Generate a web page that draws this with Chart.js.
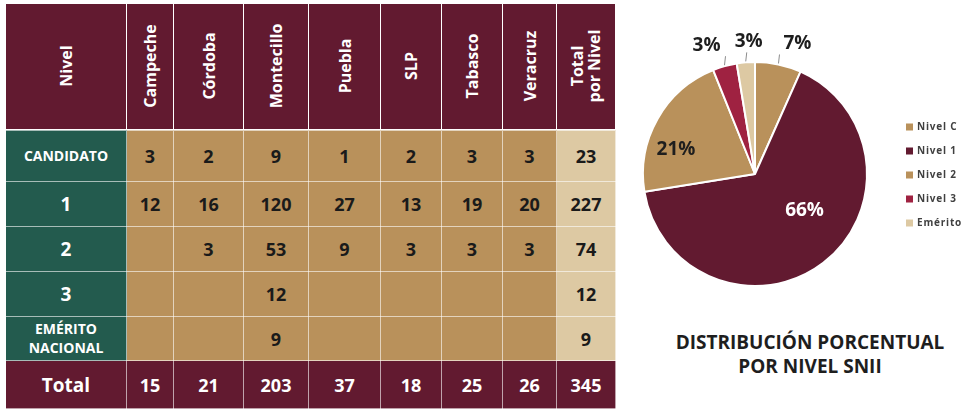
<!DOCTYPE html>
<html lang="es">
<head>
<meta charset="utf-8">
<title>Distribución por nivel SNII</title>
<script src="https://cdn.jsdelivr.net/npm/chart.js@4.4.1/dist/chart.umd.min.js"></script>
<style>
  html, body { margin: 0; padding: 0; background: #fff; }
  body { width: 964px; height: 410px; position: relative; overflow: hidden; font-family: "Open Sans", "Noto Sans", sans-serif; }

  #tabla { position: absolute; left: 5px; top: 3px; width: 610px; border-collapse: collapse; table-layout: fixed; }
  #tabla th, #tabla td { border: 1.5px solid rgba(255, 255, 255, 0.6); padding: 0; text-align: center; vertical-align: middle; font-weight: 700; }
  #tabla thead th { background: #621a30; color: #fff; font-size: 16px; position: relative; }
  #tabla thead tr { height: 126px; }
  #tabla thead tr th { border-bottom-width: 2px; }
  .vert { position: absolute; left: 50%; top: 50%; transform: translate(-50%, -50%) rotate(-90deg); line-height: 1.05; white-space: nowrap; text-align: center; }
  #tabla td.nivel { background: #235b4e; color: #fff; font-size: 19px; }
  #tabla td.nivel.small { font-size: 14px; line-height: 1.3; }
  #tabla td.val { background: #b9915b; color: #1a1a1a; font-size: 18px; }
  #tabla td.tot { background: #ddc9a3; color: #1a1a1a; font-size: 18px; }
  #tabla tfoot td { background: #621a30; color: #fff; font-size: 18px; }
  #tabla tfoot td.nivel { background: #621a30; font-size: 19px; }

  #pie-wrap { position: absolute; left: 620px; top: 0; width: 344px; height: 300px; }
  #titulo { position: absolute; left: 640px; top: 330px; width: 340px; text-align: center; font-weight: 700; font-size: 19px; line-height: 24px; color: #1e1e1e; }
</style>
</head>
<body>

<table id="tabla"></table>
<div id="pie-wrap"><canvas id="pieChart"></canvas></div>
<div id="titulo">DISTRIBUCIÓN PORCENTUAL<br>POR NIVEL SNII</div>

<script>
// Sedes (columnas) y niveles (filas)
const sedes = ['Campeche', 'Córdoba', 'Montecillo', 'Puebla', 'SLP', 'Tabasco', 'Veracruz'];
const niveles = ['CANDIDATO', '1', '2', '3', 'EMÉRITO<br>NACIONAL'];

// Investigadores por nivel en cada sede (null = celda vacía)
const candidato = [3, 2, 9, 1, 2, 3, 3];
const nivel1 = [12, 16, 120, 27, 13, 19, 20];
const nivel2 = [null, 3, 53, 9, 3, 3, 3];
const nivel3 = [null, null, 12, null, null, null, null];
const emerito = [null, null, 9, null, null, null, null];

const totalPorNivel = [23, 227, 74, 12, 9];
const totalPorSede = [15, 21, 203, 37, 18, 25, 26];
const granTotal = 345;

// Etiquetas del pastel
const pieLabels = ['Nivel C', 'Nivel 1', 'Nivel 2', 'Nivel 3', 'Emérito'];

// Construir la tabla
function buildTable() {
  const tabla = document.getElementById('tabla');
  const anchos = [121, 47, 70, 65, 72, 61, 61, 54, 59];
  const altos = [52, 45, 45, 45, 44];
  const filas = [candidato, nivel1, nivel2, nivel3, emerito];

  let html = '<colgroup>' + anchos.map(w => '<col style="width:' + w + 'px">').join('') + '</colgroup>';

  html += '<thead><tr><th><span class="vert">Nivel</span></th>';
  sedes.forEach(s => { html += '<th><span class="vert">' + s + '</span></th>'; });
  html += '<th><span class="vert">Total<br>por Nivel</span></th></tr></thead><tbody>';

  filas.forEach((fila, i) => {
    const small = (i === 0 || i === 4) ? ' small' : '';
    html += '<tr style="height:' + altos[i] + 'px"><td class="nivel' + small + '">' + niveles[i] + '</td>';
    fila.forEach(v => { html += '<td class="val">' + (v === null ? '' : v) + '</td>'; });
    html += '<td class="tot">' + totalPorNivel[i] + '</td></tr>';
  });

  html += '</tbody><tfoot><tr style="height:48px"><td class="nivel">Total</td>';
  totalPorSede.forEach(v => { html += '<td>' + v + '</td>'; });
  html += '<td>' + granTotal + '</td></tr></tfoot>';

  tabla.innerHTML = html;
}
buildTable();

// Colores de cada rebanada
const pieColors = ['#b9915b', '#621a30', '#b9915b', '#9f2241', '#ddc9a3'];

// Posición de las etiquetas de porcentaje (dentro o fuera del pastel)
const labelPlacement = [
  { inside: false, dx: 18 },
  { inside: true, frac: 0.55, shift: -16, color: '#ffffff' },
  { inside: true, frac: 0.74, shift: -12 },
  { inside: false, dx: -19 },
  { inside: false, dx: 2 }
];

// Plugin: etiquetas de porcentaje con líneas guía, y leyenda a la derecha
const pieExtras = {
  id: 'pieExtras',
  afterDatasetsDraw(chart) {
    const ctx = chart.ctx;
    const meta = chart.getDatasetMeta(0);
    const data = chart.data.datasets[0].data;
    const total = data.reduce((a, b) => a + b, 0);

    ctx.save();
    ctx.font = '700 19px "Open Sans", sans-serif';
    ctx.textAlign = 'center';
    ctx.textBaseline = 'middle';

    meta.data.forEach((arc, i) => {
      const p = arc.getProps(['x', 'y', 'startAngle', 'endAngle', 'outerRadius'], true);
      const mid = (p.startAngle + p.endAngle) / 2;
      const opt = labelPlacement[i];
      const text = Math.round(data[i] / total * 100) + '%';

      if (opt.inside) {
        const a = mid + opt.shift * Math.PI / 180;
        const r = p.outerRadius * opt.frac;
        ctx.fillStyle = opt.color || '#1e1e1e';
        ctx.fillText(text, p.x + Math.cos(a) * r, p.y + Math.sin(a) * r);
      } else {
        const sx = p.x + Math.cos(mid) * (p.outerRadius + 1);
        const sy = p.y + Math.sin(mid) * (p.outerRadius + 1);
        const ex = sx + 1;
        const ey = sy - 9;
        ctx.strokeStyle = '#8c8c8c';
        ctx.lineWidth = 1;
        ctx.beginPath();
        ctx.moveTo(sx, sy);
        ctx.lineTo(ex, ey);
        ctx.stroke();
        ctx.fillStyle = '#1e1e1e';
        ctx.fillText(text, ex + opt.dx, ey - 11);
      }
    });

    // Leyenda
    ctx.font = '700 10px "Open Sans", sans-serif';
    ctx.letterSpacing = '0.8px';
    ctx.textAlign = 'left';
    chart.data.labels.forEach((lab, i) => {
      const y = 127 + i * 24;
      ctx.fillStyle = pieColors[i];
      ctx.fillRect(286, y - 3.5, 7, 7);
      ctx.fillStyle = '#404040';
      ctx.fillText(lab, 297, y);
    });
    ctx.restore();
  }
};

const pieCtx = document.getElementById('pieChart').getContext('2d');
const pieChart = new Chart(pieCtx, {
  type: 'pie',
  data: {
    labels: pieLabels,
    datasets: [{
      data: totalPorNivel,
      backgroundColor: pieColors,
      borderColor: '#ffffff',
      borderWidth: 2,
      hoverOffset: 0
    }]
  },
  options: {
    responsive: true,
    maintainAspectRatio: false,
    animation: false,
    layout: {
      padding: { left: 21, right: 95, top: 61, bottom: 13 }
    },
    plugins: {
      legend: { display: false },
      tooltip: { enabled: false }
    }
  },
  plugins: [pieExtras]
});
</script>
</body>
</html>
